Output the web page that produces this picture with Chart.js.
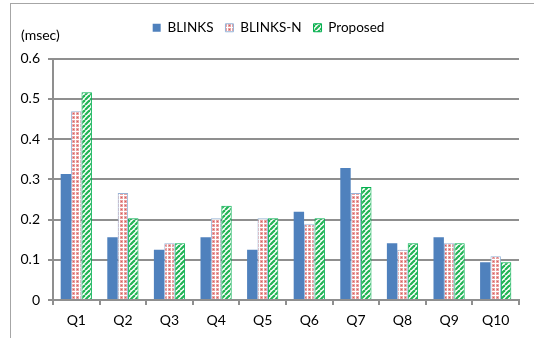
<!DOCTYPE html>
<html>
<head>
<meta charset="utf-8">
<script src="https://cdn.jsdelivr.net/npm/chart.js@4"></script>
<style>
  html, body { margin: 0; padding: 0; background: #fff; }
  #wrap { position: relative; width: 534px; height: 338px; overflow: hidden; }
  #frame { position: absolute; left: 10px; top: 3px; width: 600px; height: 400px; border: 1px solid #a6a6a6; box-sizing: border-box; }
  canvas { position: absolute; left: 0; top: 0; }
</style>
</head>
<body>
<div id="wrap">
  <div id="frame"></div>
  <canvas id="grafico" width="534" height="338"></canvas>
</div>
<script>
// dados do gráfico
const categorias = ['Q1', 'Q2', 'Q3', 'Q4', 'Q5', 'Q6', 'Q7', 'Q8', 'Q9', 'Q10'];
const blinks = [0.313, 0.156, 0.125, 0.156, 0.125, 0.219, 0.328, 0.141, 0.156, 0.094];
const blinksN = [0.469, 0.266, 0.141, 0.203, 0.203, 0.188, 0.266, 0.125, 0.141, 0.109];
const proposto = [0.516, 0.203, 0.141, 0.234, 0.203, 0.203, 0.281, 0.141, 0.141, 0.094];
const rotulosY = ['0', '0.1', '0.2', '0.3', '0.4', '0.5', '0.6'];

const FONTE = 'Lato, "Open Sans", sans-serif';

// padrão quadriculado rosa
function padraoPontos() {
  const c = document.createElement('canvas');
  c.width = 4; c.height = 4;
  const g = c.getContext('2d');
  g.fillStyle = '#ffffff';
  g.fillRect(0, 0, 4, 4);
  g.fillStyle = '#eaa3a3';
  g.fillRect(0, 0, 3, 3);
  g.fillStyle = '#d65c5c';
  g.fillRect(1, 1, 1, 1);
  return g.createPattern(c, 'repeat');
}

// padrão listrado verde
function padraoListras() {
  const c = document.createElement('canvas');
  c.width = 5; c.height = 5;
  const g = c.getContext('2d');
  g.fillStyle = '#ffffff';
  g.fillRect(0, 0, 5, 5);
  g.strokeStyle = '#22b455';
  g.lineWidth = 2.2;
  for (let k = -5; k <= 10; k += 5) {
    g.beginPath();
    g.moveTo(k, 5);
    g.lineTo(k + 5, 0);
    g.stroke();
  }
  return g.createPattern(c, 'repeat');
}

// texto da unidade
const unidadePlugin = {
  id: 'unidade',
  afterDraw(chart) {
    const ctx = chart.ctx;
    ctx.save();
    ctx.font = '14px ' + FONTE;
    ctx.fillStyle = '#000';
    ctx.textAlign = 'left';
    ctx.textBaseline = 'middle';
    ctx.fillText('(msec)', 21, 35);
    ctx.restore();
  }
};

const ctx = document.getElementById('grafico').getContext('2d');
new Chart(ctx, {
  type: 'bar',
  data: {
    labels: categorias,
    datasets: [{
      label: 'BLINKS',
      data: blinks,
      backgroundColor: '#4f81bd',
      borderColor: '#4f81bd',
      borderWidth: 0
    }, {
      label: 'BLINKS-N',
      data: blinksN,
      backgroundColor: padraoPontos(),
      borderColor: '#95b3d7',
      borderWidth: 1
    }, {
      label: 'Proposed',
      data: proposto,
      backgroundColor: padraoListras(),
      borderColor: '#00b050',
      borderWidth: 1
    }]
  },
  options: {
    responsive: false,
    animation: false,
    devicePixelRatio: 1,
    layout: { padding: { top: 9, right: 15, left: 18, bottom: 0 } },
    datasets: {
      bar: { categoryPercentage: 0.67, barPercentage: 1 }
    },
    plugins: {
      legend: {
        position: 'top',
        labels: {
          boxWidth: 8,
          boxHeight: 8,
          padding: 12,
          color: '#000',
          font: { family: FONTE, size: 13.5 }
        }
      },
      // espaçador vazio abaixo da legenda
      title: {
        display: true,
        text: '',
        weight: 500,
        font: { size: 10 },
        padding: { top: 2, bottom: 0 }
      },
      tooltip: { enabled: false }
    },
    scales: {
      x: {
        grid: {
          display: true,
          drawOnChartArea: false,
          drawTicks: true,
          tickLength: 5,
          color: '#8f8f8f',
          lineWidth: 2
        },
        border: { color: '#8f8f8f', width: 2 },
        ticks: { color: '#000', padding: 7, font: { family: FONTE, size: 14 } },
        afterFit(scale) { scale.height = 38; }
      },
      y: {
        min: 0,
        max: 0.6,
        grid: { color: '#8f8f8f', lineWidth: 2, tickLength: 5 },
        border: { color: '#8f8f8f', width: 2 },
        ticks: {
          stepSize: 0.1,
          color: '#000',
          padding: 8,
          font: { family: FONTE, size: 14 },
          callback: (v, i) => rotulosY[i]
        },
        afterFit(scale) { scale.width = 35; }
      }
    }
  },
  plugins: [unidadePlugin]
});
</script>
</body>
</html>
